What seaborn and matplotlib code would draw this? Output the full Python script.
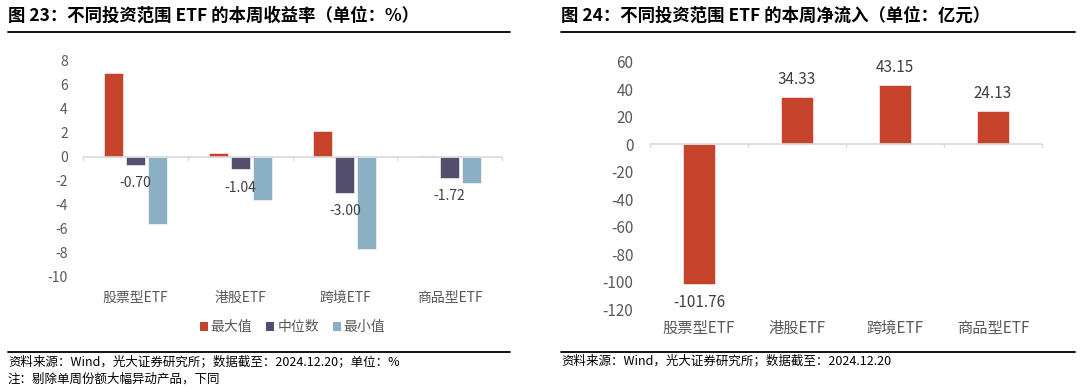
import numpy as np
import pandas as pd
import matplotlib
matplotlib.use('Agg')
import matplotlib.pyplot as plt
import seaborn as sns

# ---- data ----
CATEGORIES = ['股票型ETF', '港股ETF', '跨境ETF', '商品型ETF']
SERIES = ['最大值', '中位数', '最小值']
RET_MAX = [7.00, 0.35, 2.20, 0.05]
RET_MEDIAN = [-0.70, -1.04, -3.00, -1.72]
RET_MIN = [-5.60, -3.60, -7.70, -2.20]
NET_FLOW = [-101.76, 34.33, 43.15, 24.13]

LEFT_TITLE = '图 23：不同投资范围 ETF 的本周收益率（单位：%）'
RIGHT_TITLE = '图 24：不同投资范围 ETF 的本周净流入（单位：亿元）'
LEFT_SOURCE = '资料来源：Wind，光大证券研究所；数据截至：2024.12.20；单位：%'
LEFT_NOTE = '注：剔除单周份额大幅异动产品，下同'
RIGHT_SOURCE = '资料来源：Wind，光大证券研究所；数据截至：2024.12.20'

RED = '#C5432A'
PURPLE = '#544E6E'
BLUE = '#8BAFC3'
GREY_TXT = '#595959'
AXIS_GREY = '#D9D9D9'

sns.set_style('white')
plt.rcParams['font.family'] = ['Noto Sans CJK SC', 'DejaVu Sans']
plt.rcParams['axes.unicode_minus'] = False

W, H = 1080, 388
fig = plt.figure(figsize=(W / 100, H / 100), dpi=100)


def fx(px):
    return px / W


def fy(py):
    return 1 - py / H


def zero_axis(ax, n):
    ax.axhline(0, color=AXIS_GREY, lw=1.2, zorder=1)
    span = ax.get_ylim()[1] - ax.get_ylim()[0]
    for b in np.arange(n + 1) - 0.5:
        ax.plot([b, b], [0, -span * 0.012], color=AXIS_GREY, lw=1.0,
                clip_on=False, zorder=1)
    ax.set_xlim(-0.5, n - 0.5)


def style_axes(ax, size):
    sns.despine(ax=ax, left=True, bottom=True)
    ax.set_xlabel('')
    ax.set_ylabel('')
    ax.tick_params(axis='both', length=0, labelsize=size, colors=GREY_TXT)
    ax.grid(False)


# ---- left: weekly returns ----
df_ret = pd.DataFrame({
    'cat': CATEGORIES * 3,
    'series': np.repeat(SERIES, len(CATEGORIES)),
    'val': RET_MAX + RET_MEDIAN + RET_MIN,
})
ax1 = fig.add_axes([fx(83), fy(277), fx(502 - 83), fy(61) - fy(277)])
sns.barplot(data=df_ret, x='cat', y='val', hue='series', order=CATEGORIES,
            hue_order=SERIES, palette=[RED, PURPLE, BLUE], width=0.63,
            gap=0.14, edgecolor='white', linewidth=0.4, ax=ax1, legend=True)
ax1.set_ylim(-10, 8)
ax1.set_yticks(np.arange(-10, 9, 2))
zero_axis(ax1, len(CATEGORIES))
style_axes(ax1, 10)
ax1.tick_params(axis='x', pad=10)
ax1.tick_params(axis='y', pad=11)

# labels on the median series
med_bars = ax1.containers[1]
for rect, v in zip(med_bars, RET_MEDIAN):
    ax1.annotate(f'{v:.2f}', (rect.get_x() + rect.get_width() / 2, v),
                 xytext=(0, -13), textcoords='offset points',
                 ha='center', va='center', fontsize=10, color='#404040')

handles, labels = ax1.get_legend_handles_labels()
ax1.legend(handles, labels, loc='center', bbox_to_anchor=(0.5, -0.232),
           ncol=3, frameon=False, fontsize=10, handlelength=0.6,
           handleheight=0.6, handletextpad=0.2, columnspacing=1.0,
           labelcolor=GREY_TXT)

# ---- right: net inflow ----
df_flow = pd.DataFrame({'cat': CATEGORIES, 'val': NET_FLOW})
ax2 = fig.add_axes([fx(650), fy(309), fx(1042 - 650), fy(62) - fy(309)])
sns.barplot(data=df_flow, x='cat', y='val', order=CATEGORIES, color=RED,
            width=0.32, edgecolor='white', linewidth=0.4, saturation=1, ax=ax2)
ax2.set_ylim(-120, 60)
ax2.set_yticks(np.arange(-120, 61, 20))
zero_axis(ax2, len(CATEGORIES))
style_axes(ax2, 11)
ax2.tick_params(axis='x', pad=8)
ax2.tick_params(axis='y', pad=12)
for rect, v in zip(ax2.containers[0], NET_FLOW):
    off = 13 if v >= 0 else -13
    ax2.annotate(f'{v:.2f}', (rect.get_x() + rect.get_width() / 2, v),
                 xytext=(0, off), textcoords='offset points',
                 ha='center', va='center', fontsize=11, color='#404040')

# seaborn desaturates hue colours; restore the exact ones
for cont, col in zip(ax1.containers, [RED, PURPLE, BLUE]):
    for rect in cont:
        rect.set_facecolor(col)
leg = ax1.get_legend()
for h, col in zip(leg.legend_handles, [RED, PURPLE, BLUE]):
    h.set_facecolor(col)
    h.set_edgecolor('none')

# ---- titles, rules, sources ----
fig.text(fx(8), fy(16), LEFT_TITLE, fontsize=12.5, fontweight='bold',
         color='black', ha='left', va='center')
fig.text(fx(561), fy(16), RIGHT_TITLE, fontsize=12.5, fontweight='bold',
         color='black', ha='left', va='center')
fig.add_artist(plt.Line2D([fx(8), fx(510)], [fy(32), fy(32)], color='black', lw=1.3))
fig.add_artist(plt.Line2D([fx(561), fx(1075)], [fy(32), fy(32)], color='black', lw=1.3))
fig.add_artist(plt.Line2D([fx(8), fx(510)], [fy(352), fy(352)], color='black', lw=1.3))
fig.add_artist(plt.Line2D([fx(561), fx(1075)], [fy(352), fy(352)], color='black', lw=1.3))
fig.text(fx(8), fy(362), LEFT_SOURCE, fontsize=9, color='black', ha='left', va='center')
fig.text(fx(8), fy(379), LEFT_NOTE, fontsize=9, color='black', ha='left', va='center')
fig.text(fx(561), fy(361), RIGHT_SOURCE, fontsize=9, color='black', ha='left', va='center')

fig.savefig('out.png', dpi=100, facecolor='white')
